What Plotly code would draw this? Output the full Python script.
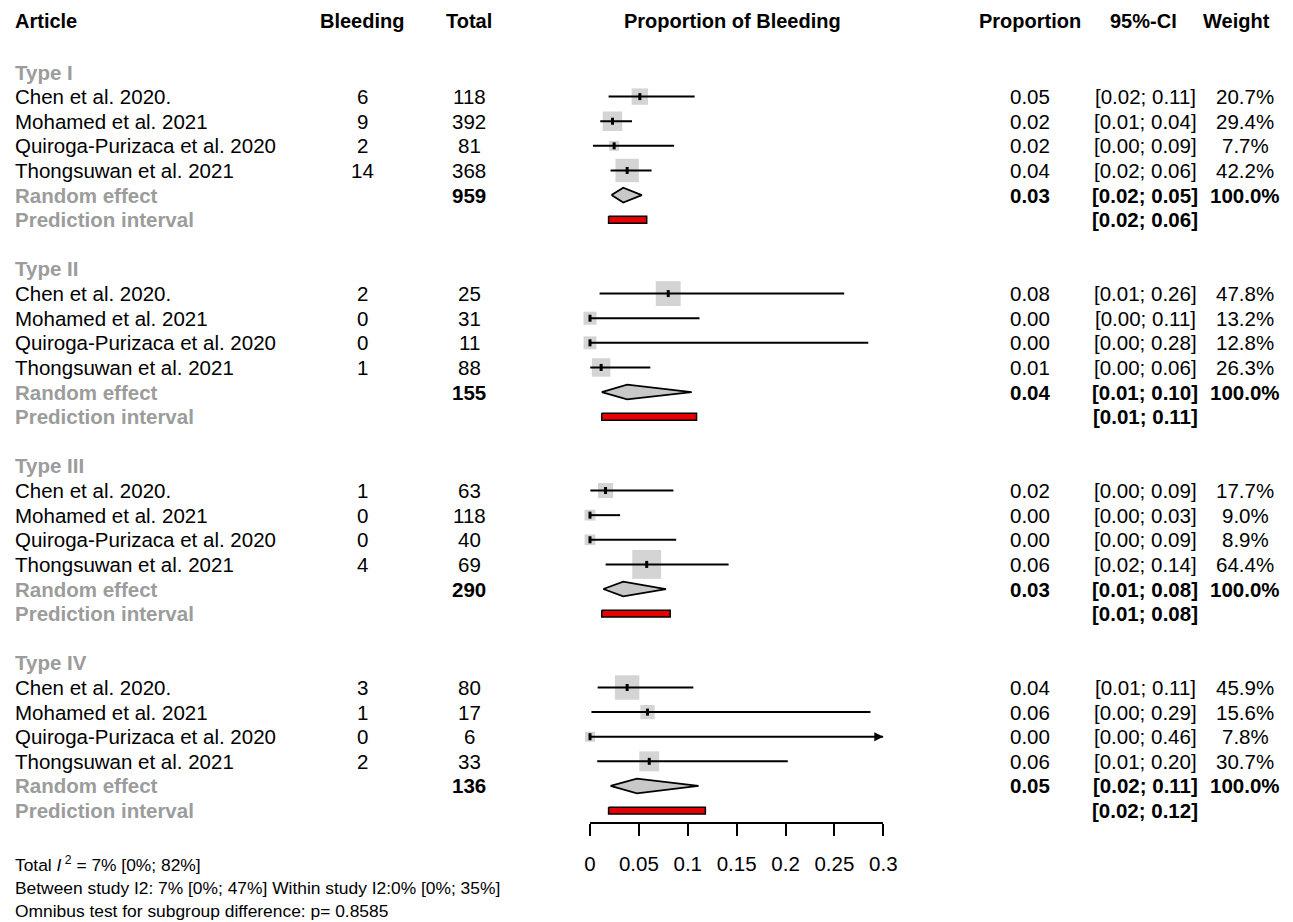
import math
import plotly.graph_objects as go

# ---- data -------------------------------------------------------------
groups = ["Type I", "Type II", "Type III", "Type IV"]
studies = ["Chen et al. 2020.", "Mohamed et al. 2021",
           "Quiroga-Purizaca et al. 2020", "Thongsuwan et al. 2021"]

bleeding = [[6, 9, 2, 14], [2, 0, 0, 1], [1, 0, 0, 4], [3, 1, 0, 2]]
total = [[118, 392, 81, 368], [25, 31, 11, 88], [63, 118, 40, 69], [80, 17, 6, 33]]

prop = [[0.051, 0.023, 0.0247, 0.038],
        [0.080, 0.000, 0.000, 0.0114],
        [0.0159, 0.000, 0.000, 0.058],
        [0.038, 0.0588, 0.000, 0.0606]]
ci_low = [[0.019, 0.0105, 0.003, 0.021],
          [0.0098, 0.000, 0.000, 0.0003],
          [0.0004, 0.000, 0.000, 0.016],
          [0.0078, 0.0015, 0.000, 0.0074]]
ci_high = [[0.107, 0.043, 0.086, 0.063],
           [0.260, 0.112, 0.2846, 0.0617],
           [0.0853, 0.0308, 0.0881, 0.1418],
           [0.1057, 0.2869, 0.459, 0.2023]]
weight = [[20.7, 29.4, 7.7, 42.2],
          [47.8, 13.2, 12.8, 26.3],
          [17.7, 9.0, 8.9, 64.4],
          [45.9, 15.6, 7.8, 30.7]]

re_est = [0.034, 0.038, 0.034, 0.048]
re_low = [0.022, 0.012, 0.0136, 0.021]
re_high = [0.053, 0.104, 0.0777, 0.111]
pi_low = [0.019, 0.012, 0.012, 0.019]
pi_high = [0.058, 0.109, 0.082, 0.118]

tick_vals = [0, 0.05, 0.1, 0.15, 0.2, 0.25, 0.3]
tick_text = ["0", "0.05", "0.1", "0.15", "0.2", "0.25", "0.3"]

footer = ["Total <i>I</i><sup>&nbsp;2</sup>&nbsp;= 7% [0%; 82%]",
          "Between study I2: 7% [0%; 47%] Within study I2:0% [0%; 35%]",
          "Omnibus test for subgroup difference: p= 0.8585"]

# ---- layout geometry --------------------------------------------------
W, H = 1293, 922
FONT = "Liberation Sans, Arial, sans-serif"
GRAY = "#9c9c9c"
ROW0_PX, ROW_PX = 72.0, 24.62          # first table row and row pitch (px)
X0_PX, X1_PX = 590.0, 883.3            # forest panel extent (px)
XMAX = 0.3


def row_of(px):
    return (px - ROW0_PX) / ROW_PX


def fx(px):
    return px / W


def fy(px):
    return 1 - px / H


COL_ARTICLE = 13
COL_BLEED = 362
COL_TOTAL = 469
COL_PROP = 1030
COL_CI = 1145
COL_WEIGHT = 1245

fig = go.Figure()
ann = []


def txt(x_px, row, s, anchor="center", color="black", bold=False, size=20.5):
    ann.append(dict(x=fx(x_px), y=row, xref="paper", yref="y",
                    text=f"<b>{s}</b>" if bold else s, showarrow=False,
                    xanchor=anchor, yanchor="middle",
                    font=dict(family=FONT, size=size, color=color)))


sq_x, sq_y, sq_s = [], [], []
ci_x, ci_y = [], []
tk_x, tk_y = [], []
ar_x, ar_y = [], []
dia_x, dia_y = [], []
pi_x, pi_y = [], []

for g, name in enumerate(groups):
    base = 8 * g
    txt(COL_ARTICLE, base, name, anchor="left", color=GRAY, bold=True)
    for i, st in enumerate(studies):
        r = base + 1 + i
        p, lo, hi, w = prop[g][i], ci_low[g][i], ci_high[g][i], weight[g][i]
        txt(COL_ARTICLE, r, st, anchor="left")
        txt(COL_BLEED, r, str(bleeding[g][i]))
        txt(COL_TOTAL, r, str(total[g][i]))
        txt(COL_PROP, r, f"{p:.2f}")
        txt(COL_CI, r, f"[{lo:.2f}; {hi:.2f}]")
        txt(COL_WEIGHT, r, f"{w:.1f}%")

        sq_x.append(p); sq_y.append(r); sq_s.append(3.6 * math.sqrt(w))
        ci_x += [lo, min(hi, XMAX), None]; ci_y += [r, r, None]
        tk_x.append(p); tk_y.append(r)
        if hi > XMAX:
            # interval runs past the axis: mark it with an arrowhead
            ar_x.append(XMAX); ar_y.append(r)

    # random-effects summary
    r = base + 5
    txt(COL_ARTICLE, r, "Random effect", anchor="left", color=GRAY, bold=True)
    txt(COL_TOTAL, r, str(sum(total[g])), bold=True)
    txt(COL_PROP, r, f"{re_est[g]:.2f}", bold=True)
    txt(COL_CI, r, f"[{re_low[g]:.2f}; {re_high[g]:.2f}]", bold=True)
    txt(COL_WEIGHT, r, "100.0%", bold=True)
    h = 0.3
    dia_x += [re_low[g], re_est[g], re_high[g], re_est[g], re_low[g], None]
    dia_y += [r, r - h, r, r + h, r, None]

    # prediction interval
    r = base + 6
    txt(COL_ARTICLE, r, "Prediction interval", anchor="left", color=GRAY, bold=True)
    txt(COL_CI, r, f"[{pi_low[g]:.2f}; {pi_high[g]:.2f}]", bold=True)
    h = 0.14
    pi_x += [pi_low[g], pi_high[g], pi_high[g], pi_low[g], pi_low[g], None]
    pi_y += [r - h, r - h, r + h, r + h, r - h, None]

# column headers
hdr_row = row_of(21)
txt(COL_ARTICLE, hdr_row, "Article", anchor="left", bold=True, size=20)
txt(COL_BLEED, hdr_row, "Bleeding", bold=True, size=20)
txt(COL_TOTAL, hdr_row, "Total", bold=True, size=20)
txt((X0_PX + X1_PX) / 2 - 4, hdr_row, "Proportion of Bleeding", bold=True, size=20)
txt(COL_PROP, hdr_row, "Proportion", bold=True, size=20)
txt(1143, hdr_row, "95%-CI", bold=True, size=20)
txt(1236, hdr_row, "Weight", bold=True, size=20)

# footer statistics
for k, s in enumerate(footer):
    ann.append(dict(x=fx(13), y=fy(864 + 23.5 * k), xref="paper", yref="paper",
                    text=s, showarrow=False, xanchor="left", yanchor="middle",
                    font=dict(family=FONT, size=17.4, color="black")))

# ---- traces -----------------------------------------------------------
fig.add_trace(go.Scatter(x=sq_x, y=sq_y, mode="markers", cliponaxis=False,
                         marker=dict(symbol="square", size=sq_s, color="#c2c2c2",
                                     line=dict(width=0))))
fig.add_trace(go.Scatter(x=ci_x, y=ci_y, mode="lines", cliponaxis=False,
                         line=dict(color="black", width=2)))
fig.add_trace(go.Scatter(x=tk_x, y=tk_y, mode="markers", cliponaxis=False,
                         marker=dict(symbol="line-ns", size=5,
                                     line=dict(color="black", width=3))))
fig.add_trace(go.Scatter(x=ar_x, y=ar_y, mode="markers", cliponaxis=False,
                         marker=dict(symbol="arrow-right", size=9, color="black",
                                     line=dict(width=0))))
fig.add_trace(go.Scatter(x=dia_x, y=dia_y, mode="lines", fill="toself",
                         fillcolor="#c8c8c8", cliponaxis=False,
                         line=dict(color="black", width=1.8)))
fig.add_trace(go.Scatter(x=pi_x, y=pi_y, mode="lines", fill="toself",
                         fillcolor="#e60000", cliponaxis=False,
                         line=dict(color="black", width=1.5)))

y_top = row_of(0)
y_bot = row_of(H)

fig.update_layout(
    width=W, height=H, autosize=False,
    margin=dict(l=0, r=0, t=0, b=0, pad=0),
    paper_bgcolor="white", plot_bgcolor="white",
    showlegend=False, hovermode=False,
    annotations=ann,
    xaxis=dict(domain=[fx(X0_PX), fx(X1_PX)], range=[0, XMAX],
               anchor="free", position=1 - 823.3 / H,
               showline=True, linecolor="black", linewidth=2,
               ticks="outside", ticklen=12, tickwidth=2, tickcolor="black",
               tickvals=tick_vals, ticktext=tick_text,
               tickfont=dict(family=FONT, size=20.5, color="black"),
               ticklabelstandoff=10,
               showgrid=False, zeroline=False, automargin=False, fixedrange=True),
    yaxis=dict(domain=[0, 1], range=[y_bot, y_top], visible=False,
               showgrid=False, zeroline=False, automargin=False, fixedrange=True),
)

fig.write_html("out.html")
